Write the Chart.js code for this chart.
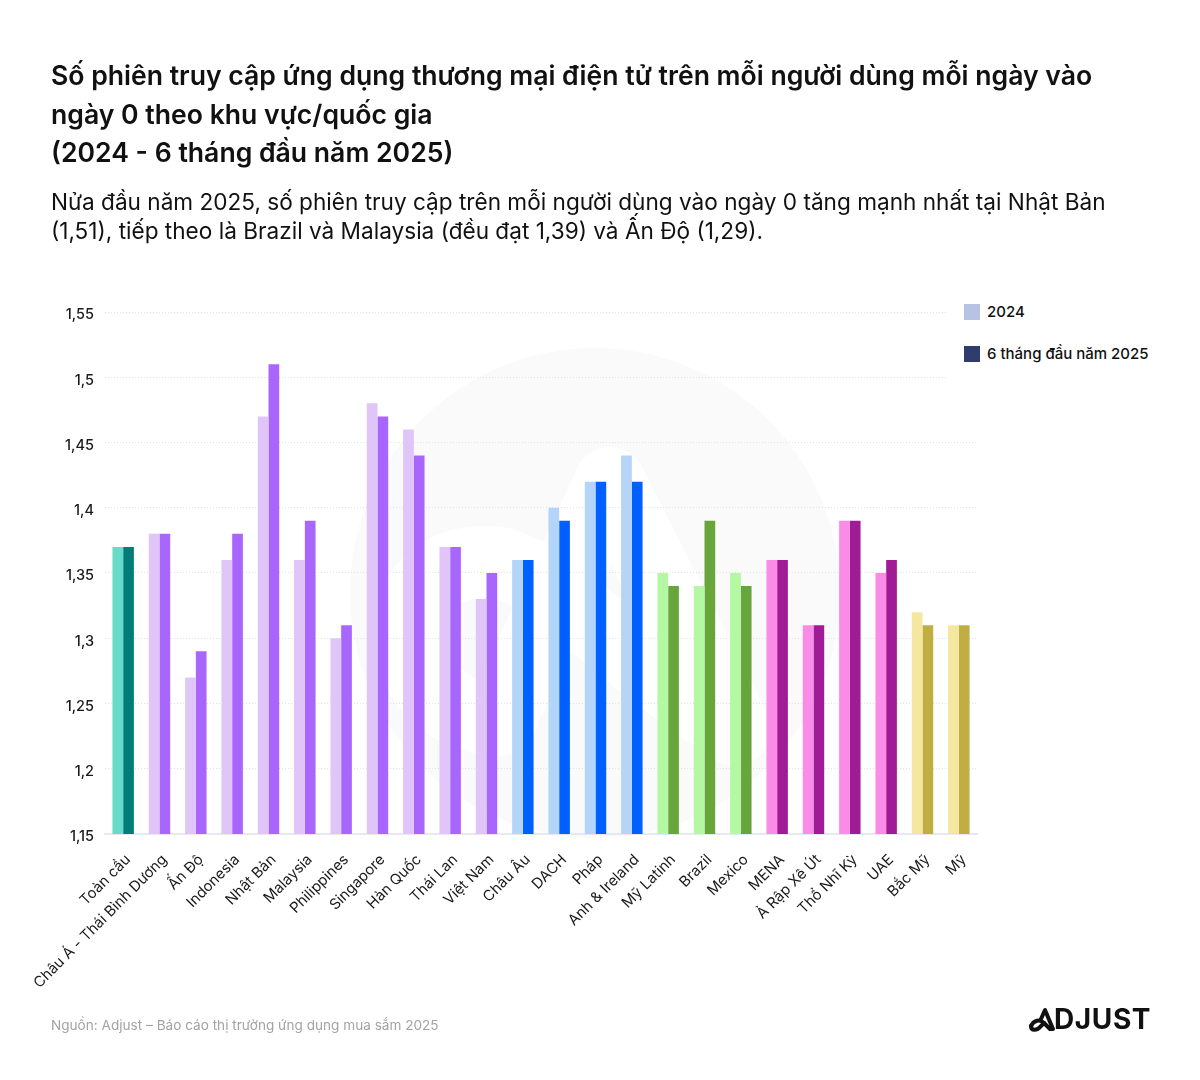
<!DOCTYPE html>
<html lang="vi">
<head>
<meta charset="utf-8">
<title>Số phiên truy cập ứng dụng thương mại điện tử</title>
<script src="https://cdn.jsdelivr.net/npm/chart.js@4"></script>
<style>
  html, body { margin: 0; padding: 0; background: #fff; }
  body { width: 1200px; height: 1080px; position: relative; overflow: hidden; font-family: Inter, "Noto Sans", sans-serif; color: #111; }
  h1 { position: absolute; left: 51px; top: 56px; width: 1100px; margin: 0; font-size: 26.6px; line-height: 38.5px; font-weight: 600; white-space: nowrap; }
  p.sub { position: absolute; left: 51px; top: 187px; width: 1100px; margin: 0; font-size: 22.6px; line-height: 29px; font-weight: 400; white-space: nowrap; }
  p.src { position: absolute; left: 51px; top: 1017px; margin: 0; font-size: 13.6px; color: #a3a3a3; }
  #chart { position: absolute; left: 0; top: 0; }
  #watermark { position: absolute; left: 350px; top: 348px; }
  #legend { position: absolute; left: 948px; top: 295px; width: 230px; height: 90px; background: #fff; }
  #legend div { position: absolute; left: 16px; font-size: 15px; font-weight: 500; white-space: nowrap; line-height: 16px; }
  #legend i { display: inline-block; width: 16px; height: 16px; margin-right: 7px; vertical-align: top; }
  #logo { position: absolute; left: 1028px; top: 1005px; }
</style>
</head>
<body>
<svg id="watermark" width="490" height="500" viewBox="0 0 490 500">
  <circle cx="245" cy="245" r="245" fill="#fafafa"/>
  <path d="M385 382 L260 135 L150 372 C90 370 50 320 60 270 C70 225 110 210 150 215 C200 225 270 310 385 382 Z" fill="none" stroke="#fff" stroke-width="72" stroke-linejoin="round" stroke-linecap="round"/>
</svg>
<canvas id="chart" width="1200" height="1080"></canvas>
<h1>Số phiên truy cập ứng dụng thương mại điện tử trên mỗi người dùng mỗi ngày vào<br>ngày 0 theo khu vực/quốc gia<br>(2024 - 6 tháng đầu năm 2025)</h1>
<p class="sub">Nửa đầu năm 2025, số phiên truy cập trên mỗi người dùng vào ngày 0 tăng mạnh nhất tại Nhật Bản<br>(1,51), tiếp theo là Brazil và Malaysia (đều đạt 1,39) và Ấn Độ (1,29).</p>
<div id="legend"></div>
<p class="src">Nguồn: Adjust – Báo cáo thị trường ứng dụng mua sắm 2025</p>
<svg id="logo" width="124" height="32" viewBox="0 0 124 32">
  <path d="M3 21 C6 15 12 14 16 18 L22 24 L25 24 L17 5 L13 14" fill="none" stroke="#111" stroke-width="4" stroke-linejoin="round" stroke-linecap="round"/>
  <path d="M3 21 C3 26 9 26 13 21 L16 18" fill="none" stroke="#111" stroke-width="4" stroke-linecap="round"/>
  <text x="26" y="24" font-family="Inter, sans-serif" font-size="28" font-weight="700" fill="#111" letter-spacing="0.6">DJUST</text>
</svg>
<script>
"use strict";

const categories = ["Toàn cầu", "Châu Á - Thái Bình Dương", "Ấn Độ", "Indonesia", "Nhật Bản", "Malaysia", "Philippines", "Singapore", "Hàn Quốc", "Thái Lan", "Việt Nam", "Châu Âu", "DACH", "Pháp", "Anh & Ireland", "Mỹ Latinh", "Brazil", "Mexico", "MENA", "Ả Rập Xê Út", "Thổ Nhĩ Kỳ", "UAE", "Bắc Mỹ", "Mỹ"];
const values2024 = [1.37, 1.38, 1.27, 1.36, 1.47, 1.36, 1.30, 1.48, 1.46, 1.37, 1.33, 1.36, 1.40, 1.42, 1.44, 1.35, 1.34, 1.35, 1.36, 1.31, 1.39, 1.35, 1.32, 1.31];
const values2025 = [1.37, 1.38, 1.29, 1.38, 1.51, 1.39, 1.31, 1.47, 1.44, 1.37, 1.35, 1.36, 1.39, 1.42, 1.42, 1.34, 1.39, 1.34, 1.36, 1.31, 1.39, 1.36, 1.31, 1.31];
const yTicks = [1.15, 1.2, 1.25, 1.3, 1.35, 1.4, 1.45, 1.5, 1.55];
const seriesNames = ["2024", "6 tháng đầu năm 2025"];
const legendColors = ["#b7c3e3", "#2f3d6e"];

// region of each category, decides the colour pair
const regions = ["global", "apac", "apac", "apac", "apac", "apac", "apac", "apac", "apac", "apac", "apac", "eu", "eu", "eu", "eu", "latam", "latam", "latam", "mena", "mena", "mena", "mena", "na", "na"];
const lightColors = { global: "#66dcc8", apac: "#dfc5f8", eu: "#b5d5f8", latam: "#b4f8a4", mena: "#fa8ce8", na: "#f5e6a0" };
const darkColors = { global: "#007d78", apac: "#a966fc", eu: "#0060ff", latam: "#68a63c", mena: "#a01c96", na: "#c0ae42" };

seriesNames.forEach((name, i) => {
    const row = document.createElement("div");
    row.style.top = (9 + i * 42) + "px";
    row.innerHTML = '<i style="background:' + legendColors[i] + '"></i>' + name;
    document.getElementById("legend").appendChild(row);
});

new Chart(document.getElementById("chart"), {
    type: "bar",
    data: {
        labels: categories,
        datasets: [
            { label: seriesNames[0], data: values2024, backgroundColor: regions.map(r => lightColors[r]) },
            { label: seriesNames[1], data: values2025, backgroundColor: regions.map(r => darkColors[r]) }
        ]
    },
    options: {
        responsive: false,
        animation: false,
        layout: { padding: { left: 50, top: 312, right: 223, bottom: 46 } },
        datasets: { bar: { categoryPercentage: 0.59, barPercentage: 1 } },
        plugins: { legend: { display: false }, title: { display: false }, tooltip: { enabled: false } },
        scales: {
            x: {
                afterFit: scale => { scale.height = 200; },
                grid: { display: false },
                border: { color: "#e8e8f0", width: 2 },
                ticks: { minRotation: 45, maxRotation: 45, autoSkip: false, padding: 9, labelOffset: 5, color: "#1a1a1a", font: { family: "Inter", size: 14.8 } }
            },
            y: {
                min: 1.15,
                max: 1.55,
                afterFit: scale => { scale.width = 55; },
                afterBuildTicks: scale => { scale.ticks = yTicks.map(value => ({ value })); },
                grid: { color: "#e2e2e2", lineWidth: 1, tickLength: 0 },
                border: { display: false, dash: [1, 2] },
                ticks: {
                    padding: 11,
                    labelOffset: 3,
                    color: "#1a1a1a",
                    font: { family: "Inter", size: 14.5, weight: "500" },
                    callback: value => String(Number(value.toFixed(2))).replace(".", ",")
                }
            }
        }
    }
});
</script>
</body>
</html>
